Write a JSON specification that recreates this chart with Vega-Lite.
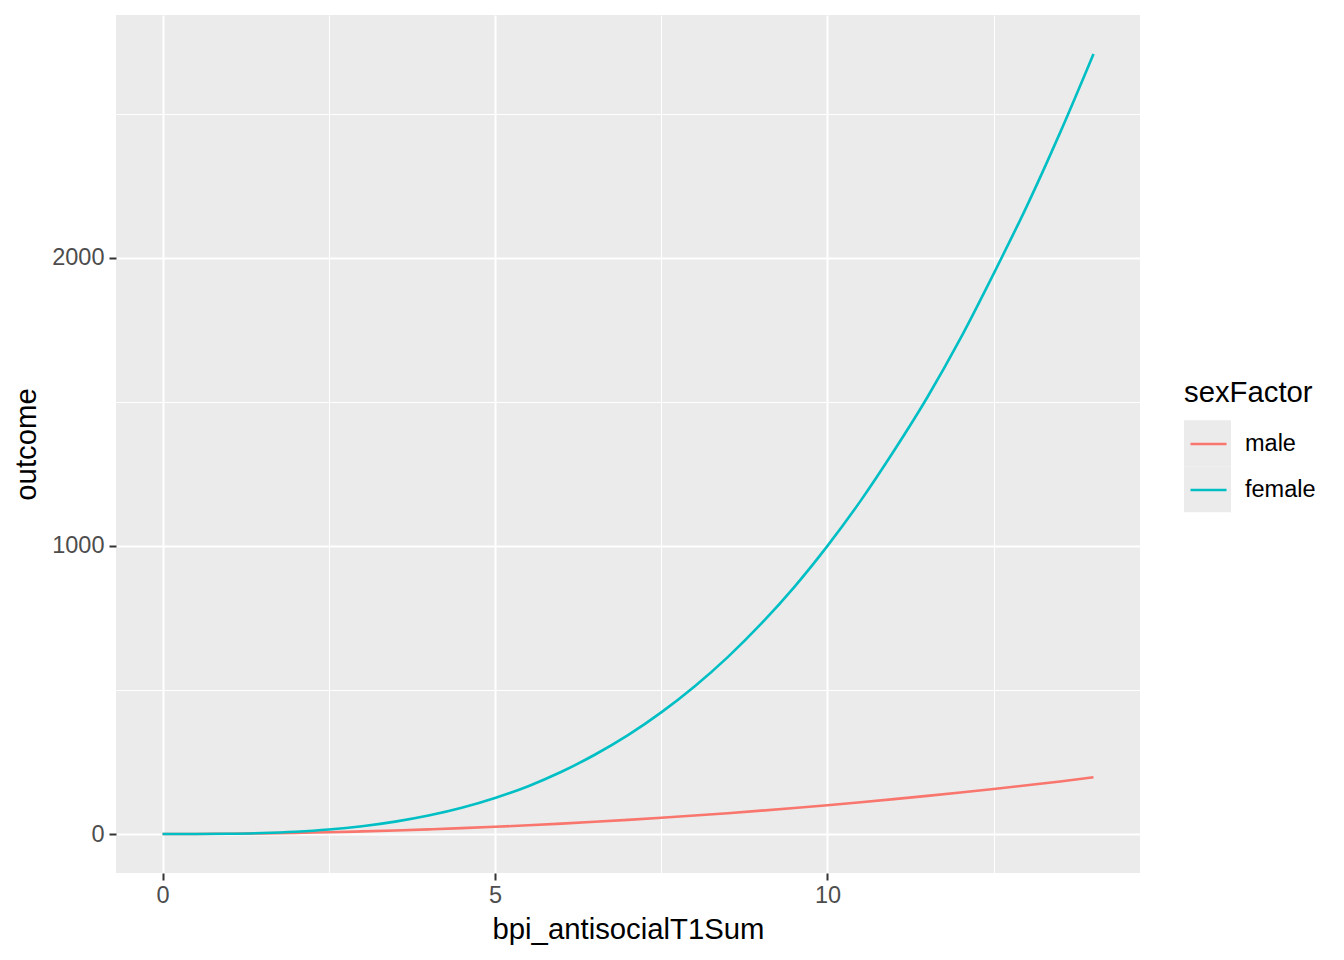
{
  "$schema": "https://vega.github.io/schema/vega-lite/v6.json",
  "width": 1024,
  "height": 858,
  "autosize": {"type": "none"},
  "padding": {"left": 116, "top": 15, "right": 204, "bottom": 87},
  "background": "white",
  "config": {
    "font": "Liberation Sans",
    "view": {"fill": "#EBEBEB", "stroke": null},
    "axis": {
      "domain": false,
      "gridColor": "white",
      "tickColor": "#333333",
      "tickSize": 7,
      "tickWidth": 2,
      "labelColor": "#4D4D4D",
      "labelFontSize": 23.5,
      "titleFontSize": 29.3,
      "titleFontWeight": "normal",
      "titleColor": "black"
    }
  },
  "data": {
    "values": [
      {"bpi_antisocialT1Sum": 0, "outcome": 0, "sexFactor": "male"},
      {"bpi_antisocialT1Sum": 0.5, "outcome": 0.25, "sexFactor": "male"},
      {"bpi_antisocialT1Sum": 1, "outcome": 1, "sexFactor": "male"},
      {"bpi_antisocialT1Sum": 1.5, "outcome": 2.25, "sexFactor": "male"},
      {"bpi_antisocialT1Sum": 2, "outcome": 4, "sexFactor": "male"},
      {"bpi_antisocialT1Sum": 2.5, "outcome": 6.25, "sexFactor": "male"},
      {"bpi_antisocialT1Sum": 3, "outcome": 9, "sexFactor": "male"},
      {"bpi_antisocialT1Sum": 3.5, "outcome": 12.25, "sexFactor": "male"},
      {"bpi_antisocialT1Sum": 4, "outcome": 16, "sexFactor": "male"},
      {"bpi_antisocialT1Sum": 4.5, "outcome": 20.25, "sexFactor": "male"},
      {"bpi_antisocialT1Sum": 5, "outcome": 25, "sexFactor": "male"},
      {"bpi_antisocialT1Sum": 5.5, "outcome": 30.25, "sexFactor": "male"},
      {"bpi_antisocialT1Sum": 6, "outcome": 36, "sexFactor": "male"},
      {"bpi_antisocialT1Sum": 6.5, "outcome": 42.25, "sexFactor": "male"},
      {"bpi_antisocialT1Sum": 7, "outcome": 49, "sexFactor": "male"},
      {"bpi_antisocialT1Sum": 7.5, "outcome": 56.25, "sexFactor": "male"},
      {"bpi_antisocialT1Sum": 8, "outcome": 64, "sexFactor": "male"},
      {"bpi_antisocialT1Sum": 8.5, "outcome": 72.25, "sexFactor": "male"},
      {"bpi_antisocialT1Sum": 9, "outcome": 81, "sexFactor": "male"},
      {"bpi_antisocialT1Sum": 9.5, "outcome": 90.25, "sexFactor": "male"},
      {"bpi_antisocialT1Sum": 10, "outcome": 100, "sexFactor": "male"},
      {"bpi_antisocialT1Sum": 10.5, "outcome": 110.25, "sexFactor": "male"},
      {"bpi_antisocialT1Sum": 11, "outcome": 121, "sexFactor": "male"},
      {"bpi_antisocialT1Sum": 11.5, "outcome": 132.25, "sexFactor": "male"},
      {"bpi_antisocialT1Sum": 12, "outcome": 144, "sexFactor": "male"},
      {"bpi_antisocialT1Sum": 12.5, "outcome": 156.25, "sexFactor": "male"},
      {"bpi_antisocialT1Sum": 13, "outcome": 169, "sexFactor": "male"},
      {"bpi_antisocialT1Sum": 13.5, "outcome": 182.25, "sexFactor": "male"},
      {"bpi_antisocialT1Sum": 14, "outcome": 197, "sexFactor": "male"},
      {"bpi_antisocialT1Sum": 0, "outcome": 0, "sexFactor": "female"},
      {"bpi_antisocialT1Sum": 0.5, "outcome": 0.1, "sexFactor": "female"},
      {"bpi_antisocialT1Sum": 1, "outcome": 1, "sexFactor": "female"},
      {"bpi_antisocialT1Sum": 1.5, "outcome": 3.4, "sexFactor": "female"},
      {"bpi_antisocialT1Sum": 2, "outcome": 8, "sexFactor": "female"},
      {"bpi_antisocialT1Sum": 2.5, "outcome": 15.6, "sexFactor": "female"},
      {"bpi_antisocialT1Sum": 3, "outcome": 27, "sexFactor": "female"},
      {"bpi_antisocialT1Sum": 3.5, "outcome": 42.9, "sexFactor": "female"},
      {"bpi_antisocialT1Sum": 4, "outcome": 64, "sexFactor": "female"},
      {"bpi_antisocialT1Sum": 4.5, "outcome": 91, "sexFactor": "female"},
      {"bpi_antisocialT1Sum": 5, "outcome": 125, "sexFactor": "female"},
      {"bpi_antisocialT1Sum": 5.5, "outcome": 166, "sexFactor": "female"},
      {"bpi_antisocialT1Sum": 6, "outcome": 216, "sexFactor": "female"},
      {"bpi_antisocialT1Sum": 6.5, "outcome": 275, "sexFactor": "female"},
      {"bpi_antisocialT1Sum": 7, "outcome": 343, "sexFactor": "female"},
      {"bpi_antisocialT1Sum": 7.5, "outcome": 422, "sexFactor": "female"},
      {"bpi_antisocialT1Sum": 8, "outcome": 512, "sexFactor": "female"},
      {"bpi_antisocialT1Sum": 8.5, "outcome": 614, "sexFactor": "female"},
      {"bpi_antisocialT1Sum": 9, "outcome": 729, "sexFactor": "female"},
      {"bpi_antisocialT1Sum": 9.5, "outcome": 857, "sexFactor": "female"},
      {"bpi_antisocialT1Sum": 10, "outcome": 1000, "sexFactor": "female"},
      {"bpi_antisocialT1Sum": 10.5, "outcome": 1157, "sexFactor": "female"},
      {"bpi_antisocialT1Sum": 11, "outcome": 1330, "sexFactor": "female"},
      {"bpi_antisocialT1Sum": 11.5, "outcome": 1515, "sexFactor": "female"},
      {"bpi_antisocialT1Sum": 12, "outcome": 1720, "sexFactor": "female"},
      {"bpi_antisocialT1Sum": 12.5, "outcome": 1945, "sexFactor": "female"},
      {"bpi_antisocialT1Sum": 13, "outcome": 2180, "sexFactor": "female"},
      {"bpi_antisocialT1Sum": 13.5, "outcome": 2435, "sexFactor": "female"},
      {"bpi_antisocialT1Sum": 14, "outcome": 2707, "sexFactor": "female"}
    ]
  },
  "encoding": {
    "x": {
      "field": "bpi_antisocialT1Sum",
      "type": "quantitative",
      "scale": {"domain": [-0.7, 14.7], "nice": false, "zero": false},
      "axis": {
        "values": [0, 2.5, 5, 7.5, 10, 12.5],
        "labelExpr": "datum.value % 5 === 0 ? datum.label : ''",
        "labelPadding": 3,
        "gridWidth": {"condition": {"test": "datum.value % 5 !== 0", "value": 1}, "value": 2},
        "tickOpacity": {"condition": {"test": "datum.value % 5 !== 0", "value": 0}, "value": 1},
        "titlePadding": 9
      }
    },
    "y": {
      "field": "outcome",
      "type": "quantitative",
      "scale": {"domain": [-135.35, 2842.35], "nice": false, "zero": false},
      "axis": {
        "values": [0, 500, 1000, 1500, 2000, 2500],
        "format": "d",
        "labelExpr": "datum.value % 1000 === 0 ? datum.label : ''",
        "labelPadding": 5,
        "gridWidth": {"condition": {"test": "datum.value % 1000 !== 0", "value": 1}, "value": 2},
        "tickOpacity": {"condition": {"test": "datum.value % 1000 !== 0", "value": 0}, "value": 1},
        "titlePadding": 10
      }
    }
  },
  "layer": [
    {
      "mark": {"type": "point", "filled": true, "size": 0, "color": "#EBEBEB"},
      "encoding": {
        "shape": {
          "field": "sexFactor",
          "type": "nominal",
          "scale": {"range": ["square", "square"]},
          "legend": {
            "orient": "none",
            "legendX": 1068,
            "legendY": 364,
            "zindex": 0,
            "padding": 0,
            "title": "sexFactor",
            "titleFontSize": 29.3,
            "titleFontWeight": "normal",
            "titleColor": "black",
            "titlePadding": 12,
            "symbolSize": 2209,
            "symbolFillColor": "#EBEBEB",
            "symbolStrokeWidth": 0,
            "symbolOpacity": 1,
            "labelExpr": "''",
            "clipHeight": 46,
            "rowPadding": 0
          }
        }
      }
    },
    {
      "mark": {"type": "line", "strokeWidth": 2.6, "interpolate": "monotone"},
      "encoding": {
        "color": {
          "field": "sexFactor",
          "type": "nominal",
          "scale": {"domain": ["male", "female"], "range": ["#F8766D", "#00BFC4"]},
          "legend": {
            "orient": "none",
            "legendX": 1073,
            "legendY": 406,
            "zindex": 1,
            "padding": 0,
            "title": null,
            "symbolType": "stroke",
            "symbolSize": 1296,
            "symbolStrokeWidth": 2.6,
            "labelFontSize": 23.5,
            "labelColor": "black",
            "labelOffset": 17,
            "clipHeight": 46,
            "rowPadding": 0
          }
        }
      }
    }
  ]
}
